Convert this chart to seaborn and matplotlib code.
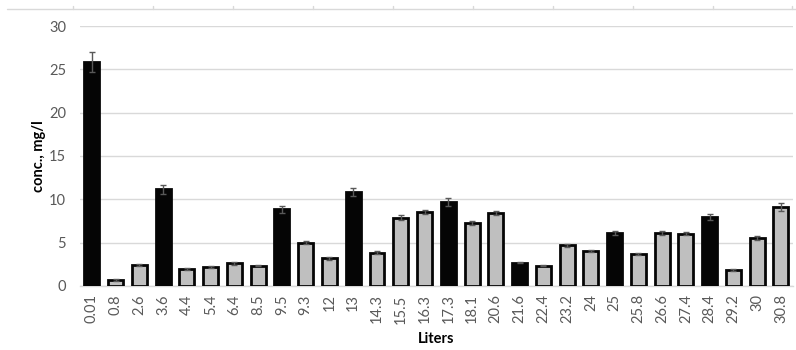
import matplotlib
matplotlib.use("Agg")
import matplotlib.pyplot as plt
from matplotlib.lines import Line2D
import seaborn as sns
import pandas as pd

# Sampled volumes (category labels) and measured concentrations
liters = ["0.01", "0.8", "2.6", "3.6", "4.4", "5.4", "6.4", "8.5", "9.5", "9.3",
          "12", "13", "14.3", "15.5", "16.3", "17.3", "18.1", "20.6", "21.6", "22.4",
          "23.2", "24", "25", "25.8", "26.6", "27.4", "28.4", "29.2", "30", "30.8"]
conc = [25.85, 0.7, 2.45, 11.15, 2.0, 2.15, 2.6, 2.35, 8.85, 5.0,
        3.2, 10.85, 3.85, 7.9, 8.5, 9.7, 7.25, 8.4, 2.7, 2.35,
        4.7, 4.05, 6.15, 3.7, 6.15, 6.05, 7.95, 1.85, 5.55, 9.1]
err = [1.2, 0.1, 0.1, 0.5, 0.1, 0.1, 0.15, 0.1, 0.4, 0.15,
       0.15, 0.45, 0.15, 0.3, 0.25, 0.5, 0.2, 0.25, 0.1, 0.1,
       0.15, 0.1, 0.25, 0.1, 0.25, 0.2, 0.3, 0.1, 0.2, 0.45]
# Composite samples are shown in black, the rest in grey
composite = ["0.01", "3.6", "9.5", "13", "17.3", "21.6", "25", "28.4"]

df = pd.DataFrame({"Liters": liters, "conc": conc, "err": err})
df["kind"] = ["composite" if l in composite else "grab" for l in liters]

sns.set_style("white")
plt.rcParams["font.family"] = ["Lato", "DejaVu Sans"]

fig = plt.figure(figsize=(7.96, 3.5), dpi=100)
ax = fig.add_axes([0.1005, 0.1829, 0.8955, 0.7428])

palette = {"composite": "#050505", "grab": "#BFBFBF"}
sns.barplot(data=df, x="Liters", y="conc", hue="kind", palette=palette,
            order=liters, dodge=False, width=0.63, legend=False,
            edgecolor="#050505", linewidth=2.0, ax=ax, zorder=3)

# Error bars at the bar centres
xpos = range(len(liters))
ax.errorbar(list(xpos), df["conc"], yerr=df["err"], fmt="none",
            ecolor="#595959", elinewidth=1.0, capsize=2.5, capthick=1.0, zorder=4)

ax.set_ylim(0, 30)
ax.set_xlim(-0.5, len(liters) - 0.5)
ax.set_yticks([0, 5, 10, 15, 20, 25, 30])
ax.yaxis.grid(True, color="#D9D9D9", linewidth=1.0, zorder=0)
ax.set_axisbelow(True)
for s in ["top", "right", "left"]:
    ax.spines[s].set_visible(False)
ax.spines["bottom"].set_color("#D9D9D9")
ax.spines["bottom"].set_linewidth(1.0)

ax.tick_params(axis="y", length=0, labelsize=10.5, labelcolor="#595959", pad=10)
ax.tick_params(axis="x", length=0, labelsize=10.5, labelcolor="#595959",
               rotation=90, pad=6)

ax.set_xlabel("Liters", fontsize=10.5, fontweight="bold", color="#000000", labelpad=6)
ax.set_ylabel("conc., mg/l", fontsize=10.5, fontweight="bold", color="#000000", labelpad=2)

# Thin rule across the top of the figure with small tick marks
W, H = 796, 350
fig.add_artist(Line2D([7 / W, 1.0], [1 - 9 / H, 1 - 9 / H], color="#D9D9D9",
                      linewidth=1.0, transform=fig.transFigure))
for px in [73, 153, 233, 313, 393, 473, 553, 633, 713, 792]:
    fig.add_artist(Line2D([px / W, px / W], [1 - 9 / H, 1 - 5.5 / H], color="#D9D9D9",
                          linewidth=1.0, transform=fig.transFigure))

fig.savefig("out.png", dpi=100)
